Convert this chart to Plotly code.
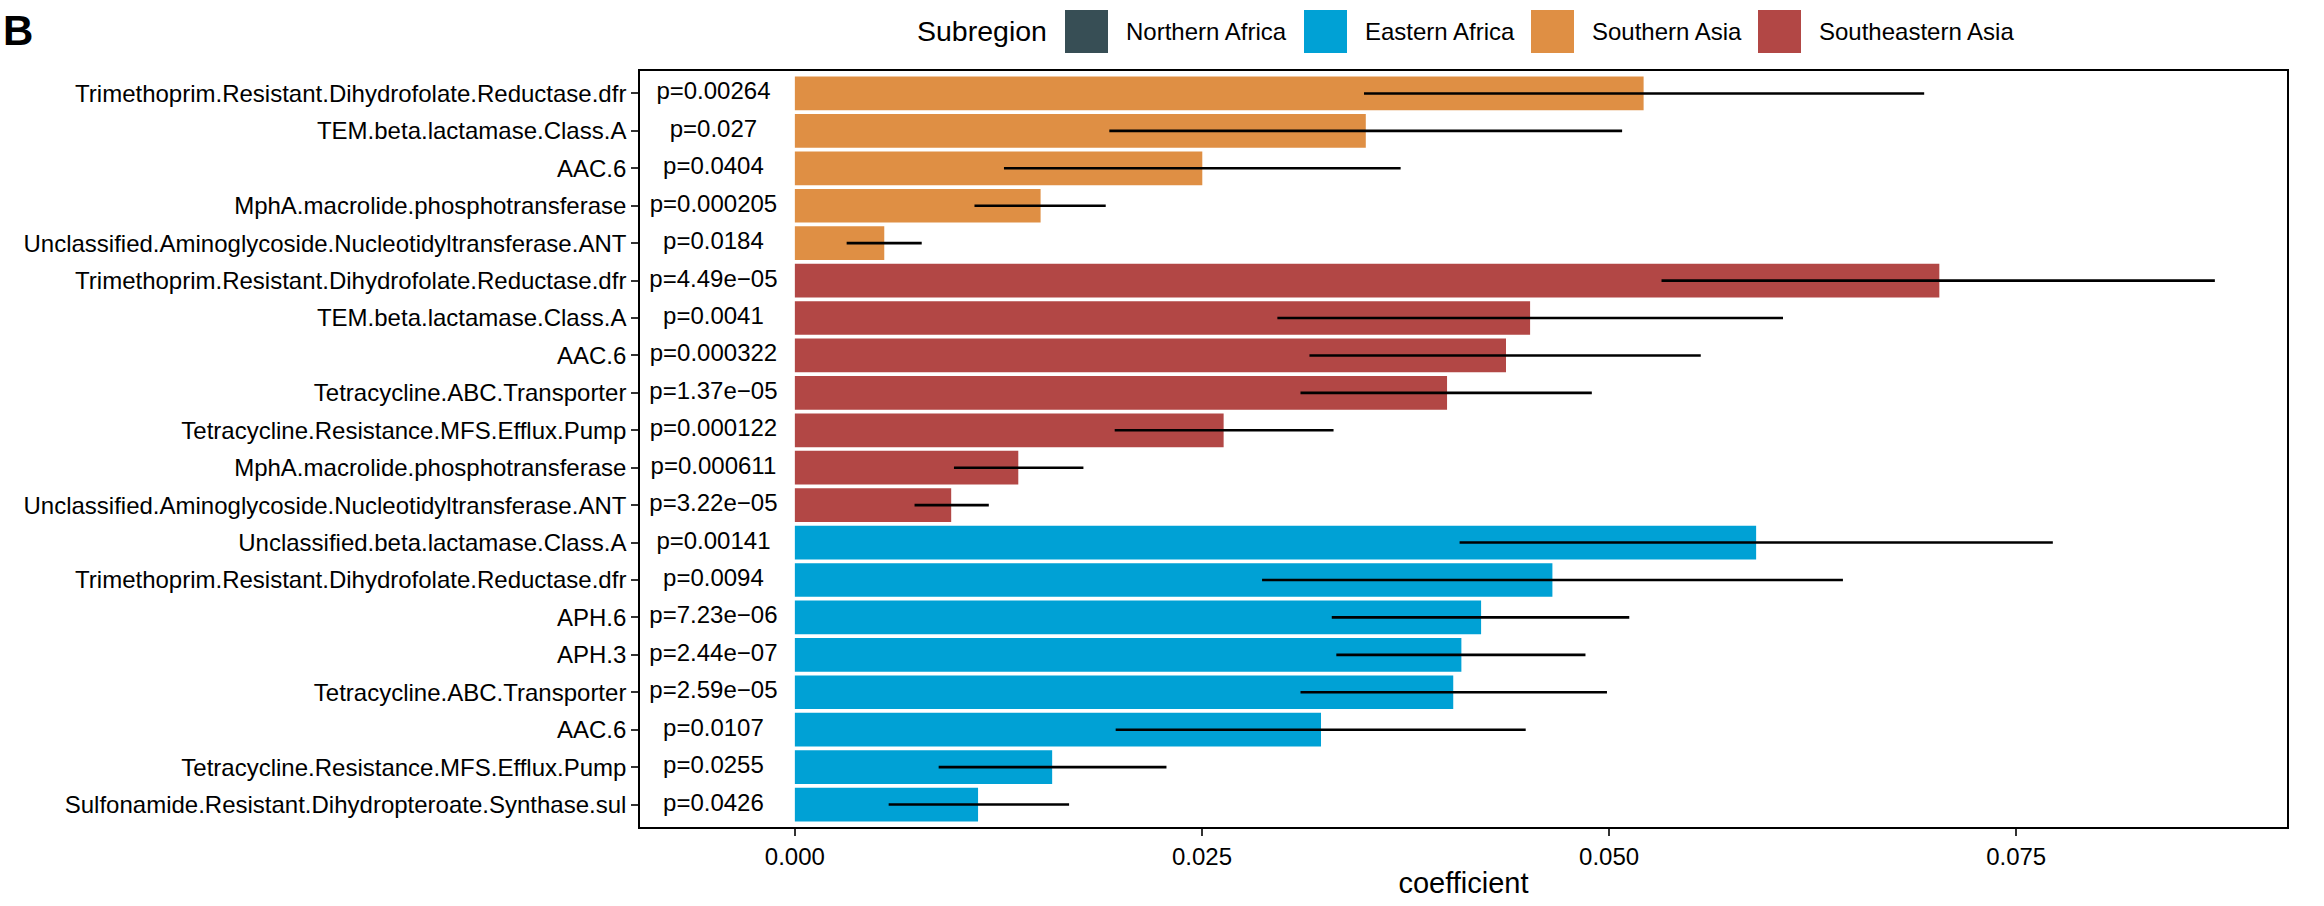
import plotly.graph_objects as go

# ---------------- data ----------------
subregions = ["Northern Africa", "Eastern Africa", "Southern Asia", "Southeastern Asia"]
subregion_colors = ["#374E55", "#00A1D5", "#DF8F44", "#B24745"]

sa_genes = ["Trimethoprim.Resistant.Dihydrofolate.Reductase.dfr",
            "TEM.beta.lactamase.Class.A",
            "AAC.6",
            "MphA.macrolide.phosphotransferase",
            "Unclassified.Aminoglycoside.Nucleotidyltransferase.ANT"]
sa_coef = [0.05212, 0.03506, 0.02502, 0.01509, 0.00549]
sa_lower = [0.03495, 0.01931, 0.01284, 0.01103, 0.00318]
sa_upper = [0.06935, 0.05080, 0.03720, 0.01909, 0.00779]
sa_p = ["p=0.00264", "p=0.027", "p=0.0404", "p=0.000205", "p=0.0184"]

sea_genes = ["Trimethoprim.Resistant.Dihydrofolate.Reductase.dfr",
             "TEM.beta.lactamase.Class.A",
             "AAC.6",
             "Tetracycline.ABC.Transporter",
             "Tetracycline.Resistance.MFS.Efflux.Pump",
             "MphA.macrolide.phosphotransferase",
             "Unclassified.Aminoglycoside.Nucleotidyltransferase.ANT"]
sea_coef = [0.07028, 0.04515, 0.04367, 0.04005, 0.02633, 0.01372, 0.00960]
sea_lower = [0.05322, 0.02963, 0.03160, 0.03105, 0.01964, 0.00977, 0.00735]
sea_upper = [0.08720, 0.06068, 0.05563, 0.04894, 0.03308, 0.01772, 0.01191]
sea_p = ["p=4.49e\u221205", "p=0.0041", "p=0.000322", "p=1.37e\u221205",
         "p=0.000122", "p=0.000611", "p=3.22e\u221205"]

ea_genes = ["Unclassified.beta.lactamase.Class.A",
            "Trimethoprim.Resistant.Dihydrofolate.Reductase.dfr",
            "APH.6",
            "APH.3",
            "Tetracycline.ABC.Transporter",
            "AAC.6",
            "Tetracycline.Resistance.MFS.Efflux.Pump",
            "Sulfonamide.Resistant.Dihydropteroate.Synthase.sul"]
ea_coef = [0.05903, 0.04652, 0.04214, 0.04093, 0.04043, 0.03231, 0.01580, 0.01125]
ea_lower = [0.04082, 0.02869, 0.03297, 0.03325, 0.03105, 0.01970, 0.00883, 0.00576]
ea_upper = [0.07725, 0.06436, 0.05124, 0.04855, 0.04987, 0.04488, 0.02282, 0.01684]
ea_p = ["p=0.00141", "p=0.0094", "p=7.23e\u221206", "p=2.44e\u221207",
        "p=2.59e\u221205", "p=0.0107", "p=0.0255", "p=0.0426"]

p_label_x = -0.005
x_ticks = [0.0, 0.025, 0.05, 0.075]

groups = [("Southern Asia", sa_genes, sa_coef, sa_lower, sa_upper, sa_p),
          ("Southeastern Asia", sea_genes, sea_coef, sea_lower, sea_upper, sea_p),
          ("Eastern Africa", ea_genes, ea_coef, ea_lower, ea_upper, ea_p)]

# ---------------- layout geometry ----------------
W, H = 2324, 906
L, R, T, B = 640, 2287, 71, 827
FONT = "Liberation Sans, Arial, Helvetica, sans-serif"
color_of = dict(zip(subregions, subregion_colors))


def px_x(px):
    return (px - L) / (R - L)


def px_y(py):
    return (B - py) / (B - T)


fig = go.Figure()

all_labels, all_pos, all_p = [], [], []
row = 0
for name, genes, coef, lo, hi, pv in groups:
    ys = list(range(row, row + len(genes)))
    row += len(genes)
    fig.add_trace(go.Bar(
        x=coef, y=ys, orientation="h", width=0.9,
        marker=dict(color=color_of[name], line=dict(width=0)),
        error_x=dict(type="data", symmetric=False,
                     array=[h - c for h, c in zip(hi, coef)],
                     arrayminus=[c - l for c, l in zip(coef, lo)],
                     color="black", thickness=2.6, width=0),
        name=name, showlegend=False, hoverinfo="skip"))
    all_labels += genes
    all_pos += ys
    all_p += pv

fig.add_trace(go.Scatter(
    x=[p_label_x] * len(all_p), y=all_pos, mode="text", text=all_p,
    textposition="middle center",
    textfont=dict(family=FONT, size=24, color="black"),
    showlegend=False, hoverinfo="skip"))

# ---------------- manual legend (ggplot style, top) ----------------
annotations = []
shapes = []
annotations.append(dict(text="Subregion", x=px_x(915), y=px_y(31), xref="paper", yref="paper",
                        xanchor="left", yanchor="middle", showarrow=False,
                        font=dict(family=FONT, size=28.5, color="black")))
key_left = [1065, 1304, 1531, 1758]
for name, col, kx in zip(subregions, subregion_colors, key_left):
    shapes.append(dict(type="rect", xref="paper", yref="paper",
                       x0=px_x(kx), x1=px_x(kx + 43), y0=px_y(53), y1=px_y(10),
                       fillcolor=col, line=dict(width=0)))
    annotations.append(dict(text=name, x=px_x(kx + 59), y=px_y(31.5), xref="paper", yref="paper",
                            xanchor="left", yanchor="middle", showarrow=False,
                            font=dict(family=FONT, size=24, color="black")))

annotations.append(dict(text="<b>B</b>", x=px_x(1), y=px_y(30), xref="paper", yref="paper",
                        xanchor="left", yanchor="middle", showarrow=False,
                        font=dict(family=FONT, size=42, color="black")))

fig.update_layout(
    width=W, height=H,
    margin=dict(l=L, r=W - R, t=T, b=H - B, pad=0, autoexpand=False),
    paper_bgcolor="white", plot_bgcolor="white",
    font=dict(family=FONT, size=24, color="black"),
    barmode="overlay",
    annotations=annotations, shapes=shapes,
    showlegend=False,
)

fig.update_xaxes(
    range=[-0.00951, 0.09163], tickvals=x_ticks, tickformat=".3f",
    showgrid=False, zeroline=False,
    showline=True, mirror=True, linecolor="black", linewidth=1.6,
    ticks="outside", ticklen=7, tickwidth=1.5, tickcolor="#333333",
    tickfont=dict(family=FONT, size=24, color="black"),
    title=dict(text="coefficient", font=dict(family=FONT, size=29, color="black"), standoff=4),
)
fig.update_yaxes(
    range=[len(all_pos) - 0.4, -0.6], tickvals=all_pos, ticktext=all_labels,
    showgrid=False, zeroline=False,
    showline=True, mirror=True, linecolor="black", linewidth=1.6,
    ticks="outside", ticklen=7, tickwidth=1.5, tickcolor="#333333",
    tickfont=dict(family=FONT, size=24, color="black"),
)

fig.write_html("out.html")
